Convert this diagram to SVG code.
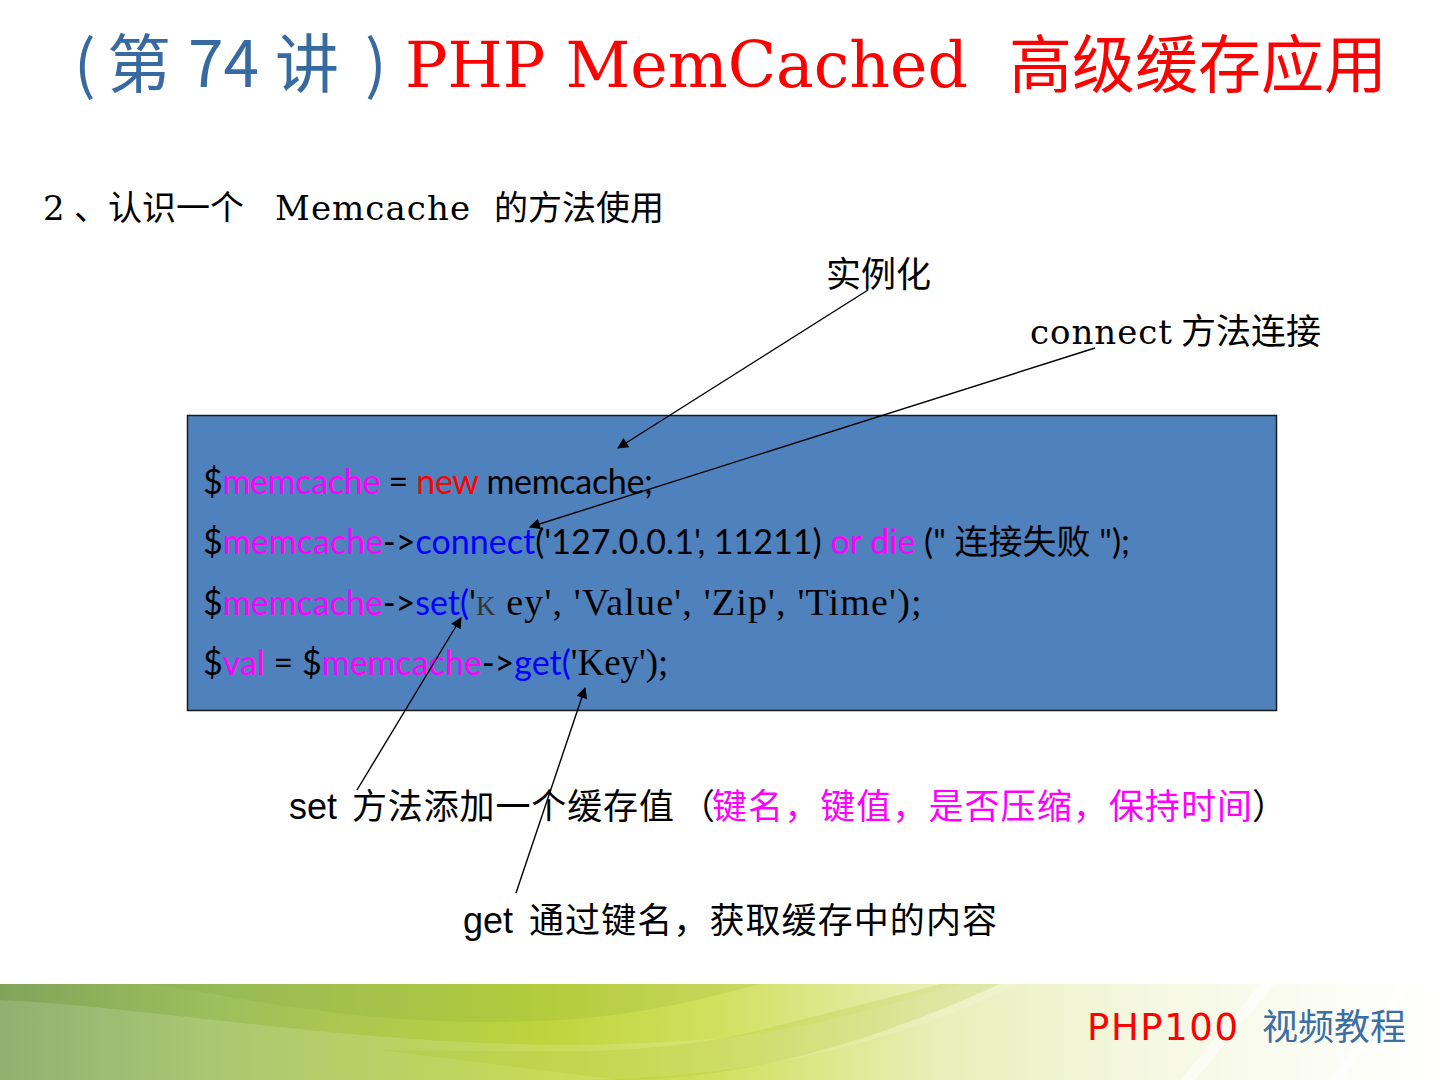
<svg xmlns="http://www.w3.org/2000/svg" width="1440" height="1080" viewBox="0 0 1440 1080">
<defs>
<style>
.cjk{font-family:"Noto Sans CJK SC",sans-serif}
.ser{font-family:"DejaVu Serif","Noto Sans CJK SC",serif}
.lab{font-family:"Noto Sans CJK SC",sans-serif;font-size:35px;fill:#000}
.code{font-family:"Lato","Noto Sans CJK SC",sans-serif;font-size:34px;fill:#000}
.mg{fill:#ff00ff}
.bl{fill:#0000ff}
.rd{fill:#ff0000}
.tser{font-family:"Liberation Serif",serif}
.conn{stroke:#000;stroke-width:1.4;fill:none;marker-end:url(#ah)}
</style>
<marker id="ah" viewBox="0 0 10 10" refX="9" refY="5" markerWidth="13" markerHeight="11" markerUnits="userSpaceOnUse" orient="auto">
<path d="M0,0 L10,5 L0,10 z" fill="#000"/>
</marker>
<linearGradient id="band" x1="0" y1="0" x2="1" y2="0">
<stop offset="0" stop-color="#80a45a"/>
<stop offset="0.15" stop-color="#9dbf5c"/>
<stop offset="0.38" stop-color="#bfd43c"/>
<stop offset="0.5" stop-color="#d2e060"/>
<stop offset="0.65" stop-color="#e8efb8"/>
<stop offset="0.8" stop-color="#f5f8e2"/>
<stop offset="1" stop-color="#ffffff"/>
</linearGradient>
</defs>
<rect width="1440" height="1080" fill="#fff"/>

<g id="footer">
<rect x="0" y="984" width="1440" height="96" fill="url(#band)"/>
<path d="M0,1000 C200,1010 420,1060 700,1040 C820,1030 900,1000 960,984 L1020,984 C900,1040 760,1080 560,1080 L0,1080 Z" fill="#ffffff" opacity="0.14"/>
<path d="M150,984 C260,1000 380,1030 560,1020 C640,1015 700,1000 760,984 Z" fill="#6f9a3a" opacity="0.14"/>
<path d="M380,1050 C520,1050 640,1060 760,1030 C840,1010 900,995 940,984 L1000,984 C900,1030 760,1080 620,1080 Z" fill="#a6c020" opacity="0.2"/>
<path d="M1180,1080 L1260,984 L1275,984 L1195,1080 Z" fill="#ffffff" opacity="0.5"/>
<path d="M1330,1080 L1400,984 L1412,984 L1342,1080 Z" fill="#ffffff" opacity="0.6"/>
<text x="1087" y="1040" font-family="'DejaVu Sans',sans-serif" font-size="37" fill="#ff0000" textLength="151">PHP100</text>
<text x="1262" y="1040" class="cjk" font-size="36" fill="#3a6ea5">视频教程</text>
</g>

<g id="title">
<text y="87" font-size="64" fill="#376aa0" class="cjk"><tspan x="74">(</tspan><tspan x="107">第</tspan><tspan x="188">74</tspan><tspan x="275">讲</tspan><tspan x="365">)</tspan></text>
<text y="87" font-size="64" fill="#ff0000" class="ser"><tspan x="405" textLength="563" lengthAdjust="spacingAndGlyphs">PHP MemCached</tspan><tspan x="1009" class="cjk" font-size="63">高级缓存应用</tspan></text>
</g>

<g id="heading">
<text y="220" font-size="34" fill="#000" class="ser"><tspan x="43">2</tspan><tspan x="74" class="cjk">、认识一个</tspan><tspan x="275" textLength="195">Memcache</tspan><tspan x="494" class="cjk">的方法使用</tspan></text>
</g>

<g id="code-box">
<rect x="187.5" y="415.5" width="1089" height="295" fill="#4f81bd" stroke="#1a1a1a" stroke-width="1.5"/>
<text class="code" y="494" x="203" textLength="450">$<tspan class="mg">memcache</tspan> = <tspan class="rd">new</tspan> memcache;</text>
<text class="code" y="554" x="203" textLength="927">$<tspan class="mg">memcache</tspan>-&gt;<tspan class="bl">connect</tspan>('127.0.0.1', 11211) <tspan class="mg">or die</tspan> (" <tspan class="cjk">连接失败</tspan> ");</text>
<text class="code" y="615" x="203">$<tspan class="mg">memcache</tspan>-&gt;<tspan class="bl">set(</tspan>'<tspan class="tser" font-size="27" fill="#333">K</tspan><tspan class="tser" font-size="38" textLength="426"> ey', 'Value', 'Zip', 'Time');</tspan></text>
<text class="code" y="675" x="203">$<tspan class="mg">val</tspan> = $<tspan class="mg">memcache</tspan>-&gt;<tspan class="bl">get(</tspan><tspan class="tser" font-size="37">'Key');</tspan></text>
</g>

<g id="label-instantiate">
<text class="lab" x="826" y="287">实例化</text>
</g>
<g id="label-connect">
<text class="lab" y="344"><tspan x="1030" class="ser" font-size="34" textLength="142">connect</tspan><tspan x="1181">方法连接</tspan></text>
</g>
<g id="label-set">
<text class="lab" y="819"><tspan x="289" font-family="'Liberation Sans',sans-serif" font-size="36">set</tspan><tspan x="352" textLength="322">方法添加一个缓存值</tspan><tspan x="680">（</tspan><tspan x="712" fill="#ff00ff" textLength="540">键名，键值，是否压缩，保持时间</tspan><tspan x="1252">）</tspan></text>
</g>
<g id="label-get">
<text class="lab" y="933"><tspan x="463" font-family="'Liberation Sans',sans-serif" font-size="36">get</tspan><tspan x="529" textLength="468">通过键名，获取缓存中的内容</tspan></text>
</g>

<g id="connectors">
<line class="conn" x1="868" y1="290" x2="618" y2="448"/>
<line class="conn" x1="1095" y1="348" x2="530" y2="527"/>
<line class="conn" x1="357" y1="790" x2="461" y2="618"/>
<line class="conn" x1="516" y1="893" x2="585" y2="688"/>
</g>
</svg>
